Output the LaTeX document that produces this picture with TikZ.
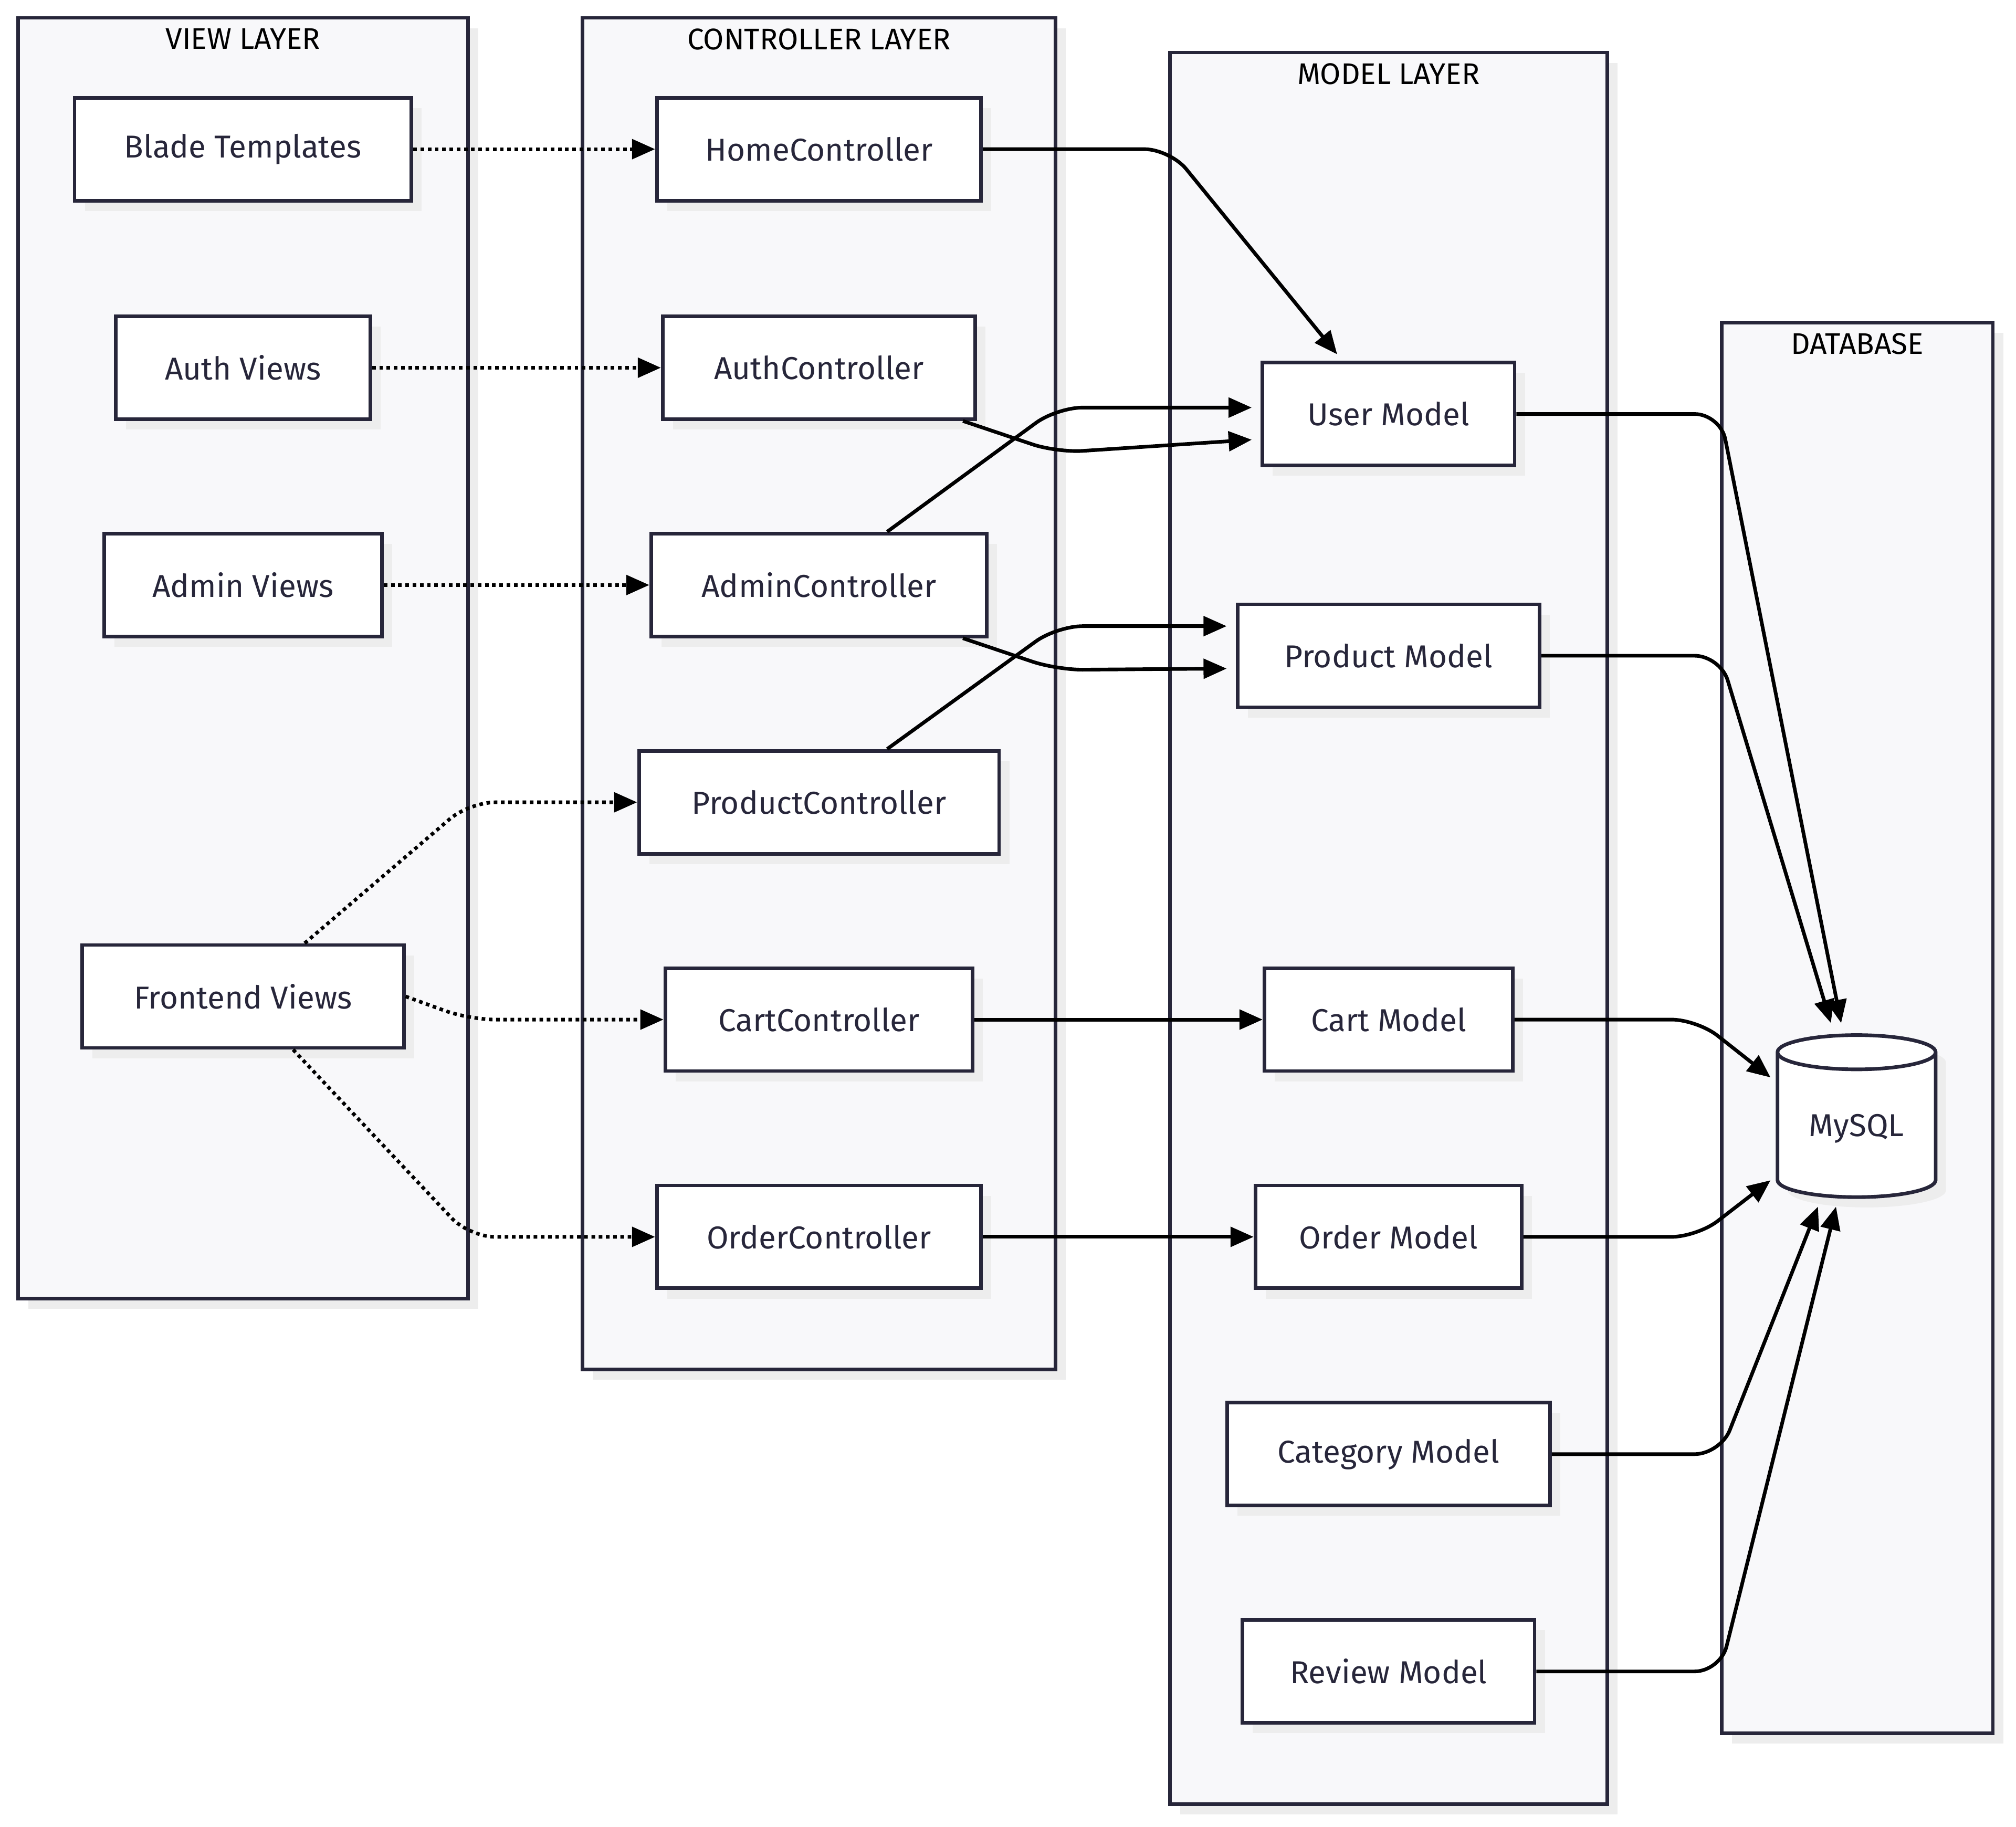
\documentclass[tikz,border=0pt]{standalone}
\usepackage{fontspec}
\setmainfont{Fira Sans}
\usetikzlibrary{arrows.meta,shapes.geometric,shadows,calc}
\definecolor{ink}{HTML}{27263A}
\definecolor{layerbg}{HTML}{F8F8FA}
\begin{document}
\begin{tikzpicture}[x=0.025cm, y=-0.025cm,
  font=\fontsize{17.5}{21}\selectfont\color{ink},
  layer/.style = {rectangle, draw=ink, line width=2pt, fill=layerbg,
                  general shadow={fill=black!7, shadow xshift=0.2cm, shadow yshift=-0.2cm}},
  title/.style = {anchor=north, inner sep=0pt, font=\fontsize{16.5}{19}\selectfont},
  box/.style = {rectangle, draw=ink, line width=2pt, fill=white, minimum height=2cm,
                general shadow={fill=black!7, shadow xshift=0.2cm, shadow yshift=-0.2cm}},
  link/.style = {draw=black, line width=2pt, rounded corners=0.5cm,
                 -{Triangle[length=0.45cm, width=0.38cm]}},
  call/.style = {link, dotted}]
  \useasboundingbox (0,0) rectangle (1568,1421);

  % Layers.
  \node at (189,512) [layer, minimum width=8.75cm, minimum height=24.9cm, name=ViewLayer] {};
  \node at (637,539.5) [layer, minimum width=9.2cm, minimum height=26.275cm, name=ControllerLayer] {};
  \node at (1080,722) [layer, minimum width=8.5cm, minimum height=34.05cm, name=ModelLayer] {};
  \node at (1444.5,799.5) [layer, minimum width=5.275cm, minimum height=27.425cm, name=DatabaseLayer] {};
  \node at (189,22) [title] {VIEW LAYER};
  \node at (637,22) [title] {CONTROLLER LAYER};
  \node at (1080,49) [title] {MODEL LAYER};
  \node at (1444.5,259) [title] {DATABASE};

  % Views.
  \node at (189,116) [box, minimum width=6.55cm, name=BladeTemplates] {Blade Templates};
  \node at (189,286) [box, minimum width=4.95cm, name=AuthViews] {Auth Views};
  \node at (189,455) [box, minimum width=5.4cm, name=AdminViews] {Admin Views};
  \node at (189,775) [box, minimum width=6.25cm, name=FrontendViews] {Frontend Views};

  % Controllers.
  \node at (637,116) [box, minimum width=6.3cm, name=HomeController] {HomeController};
  \node at (637,286) [box, minimum width=6.075cm, name=AuthController] {AuthController};
  \node at (637,455) [box, minimum width=6.525cm, name=AdminController] {AdminController};
  \node at (637,624) [box, minimum width=7cm, name=ProductController] {ProductController};
  \node at (637,793) [box, minimum width=5.975cm, name=CartController] {CartController};
  \node at (637,962) [box, minimum width=6.3cm, name=OrderController] {OrderController};

  % Models.
  \node at (1080,322) [box, minimum width=4.9cm, name=UserModel] {User Model};
  \node at (1080,510) [box, minimum width=5.875cm, name=ProductModel] {Product Model};
  \node at (1080,793) [box, minimum width=4.825cm, name=CartModel] {Cart Model};
  \node at (1080,962) [box, minimum width=5.175cm, name=OrderModel] {Order Model};
  \node at (1080,1131) [box, minimum width=6.275cm, name=CategoryModel] {Category Model};
  \node at (1080,1300) [box, minimum width=5.675cm, name=ReviewModel] {Review Model};

  % Database.
  \node at (1444,878) [cylinder, shape border rotate=90, aspect=0.32, draw=ink, line width=2pt,
                       fill=white, minimum width=3.075cm, minimum height=3.15cm,
                       general shadow={fill=black!7, shadow xshift=0.2cm, shadow yshift=-0.2cm},
                       name=MySQL] {MySQL};

  % View -> controller.
  \draw [call] (BladeTemplates) -- (HomeController);
  \draw [call] (AuthViews) -- (AuthController);
  \draw [call] (AdminViews) -- (AdminController);
  \draw [call] ($(FrontendViews.north)+(48,0)$) -- (365,624) -- (ProductController);
  \draw [call] (FrontendViews.east) -- (365,793) -- (CartController);
  \draw [call] ($(FrontendViews.south)+(39,0)$) -- (365,962) -- (OrderController);

  % Controller -> model.
  \draw [link] (HomeController) -- (910,116) -- ($(UserModel.north)+(-40,-5)$);
  \draw [link] ($(AuthController.south east)+(-11,0)$) -- (822,352) -- ($(UserModel.west)+(-7,20)$);
  \draw [link] ($(AdminController.north)+(53,0)$) -- (822,317) -- ($(UserModel.west)+(-7,-5)$);
  \draw [link] ($(AdminController.south east)+(-20,0)$) -- (822,521) -- ($(ProductModel.west)+(-7,10)$);
  \draw [link] ($(ProductController.north)+(53,0)$) -- (822,487) -- ($(ProductModel.west)+(-7,-23)$);
  \draw [link] (CartController) -- (CartModel);
  \draw [link] (OrderController) -- (OrderModel);

  % Model -> database.
  \draw [link] (UserModel) -- (1338,322) -- ($(MySQL.north)+(-12,-8)$);
  \draw [link] (ProductModel) -- (1338,510) -- ($(MySQL.north)+(-20,-8)$);
  \draw [link] (CartModel) -- (1320,793) -- ($(MySQL.west)+(-4,-40)$);
  \draw [link] (OrderModel) -- (1320,962) -- ($(MySQL.west)+(-4,40)$);
  \draw [link] (CategoryModel) -- (1338,1131) -- ($(MySQL.south)+(-30,6)$);
  \draw [link] (ReviewModel) -- (1338,1300) -- ($(MySQL.south)+(-16,6)$);
\end{tikzpicture}
\end{document}
